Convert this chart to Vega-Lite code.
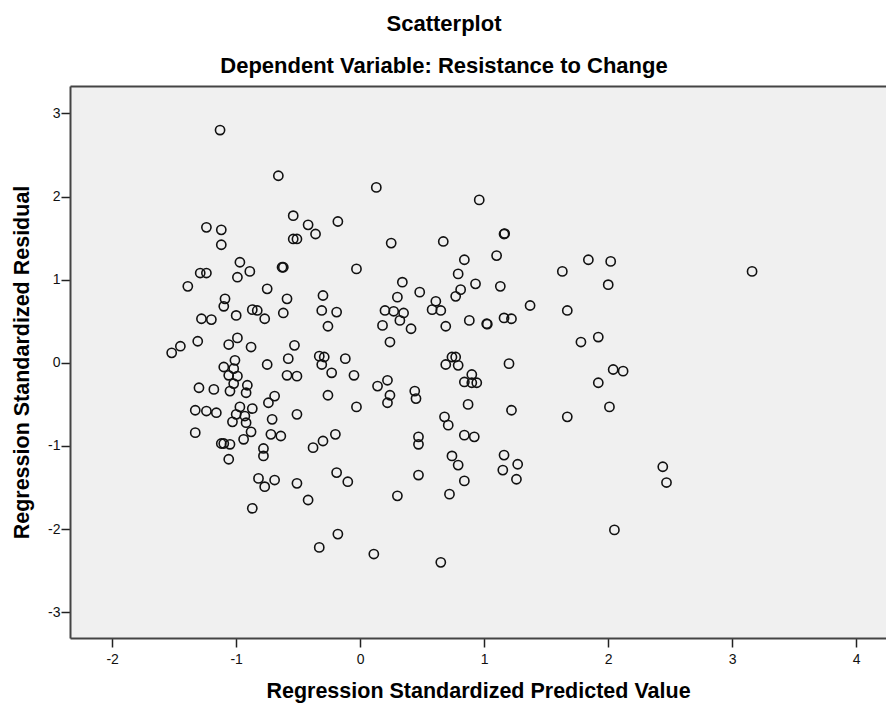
{
  "$schema": "https://vega.github.io/schema/vega-lite/v6.json",
  "autosize": {"type": "none"},
  "padding": {"left": 70, "top": 86, "right": 0, "bottom": 70},
  "width": 816,
  "height": 552,
  "background": "white",
  "config": {
    "view": {"fill": "#F0F0F0", "stroke": null},
    "font": "Liberation Sans"
  },
  "title": {
    "text": ["Scatterplot", "Dependent Variable: Resistance to Change"],
    "fontSize": 22,
    "fontWeight": "bold",
    "font": "Liberation Sans",
    "color": "#000000",
    "lineHeight": 42,
    "anchor": "middle",
    "dx": -34,
    "offset": 8
  },
  "data": {
    "values": [
      {"x": -1.13, "y": 2.80}, {"x": -0.66, "y": 2.25}, {"x": -0.54, "y": 1.77}, {"x": -1.24, "y": 1.63},
      {"x": -1.12, "y": 1.60}, {"x": -1.12, "y": 1.42}, {"x": -0.54, "y": 1.49}, {"x": -0.51, "y": 1.49},
      {"x": -0.97, "y": 1.21}, {"x": -0.89, "y": 1.10}, {"x": -1.29, "y": 1.08}, {"x": -1.24, "y": 1.08},
      {"x": -0.99, "y": 1.03}, {"x": -0.63, "y": 1.15}, {"x": -0.62, "y": 1.15}, {"x": -1.39, "y": 0.92},
      {"x": -0.75, "y": 0.89}, {"x": -1.09, "y": 0.77}, {"x": -1.10, "y": 0.68}, {"x": -0.59, "y": 0.77},
      {"x": -0.87, "y": 0.64}, {"x": -0.83, "y": 0.63}, {"x": -0.62, "y": 0.60}, {"x": -1.00, "y": 0.57},
      {"x": -0.77, "y": 0.53}, {"x": -1.28, "y": 0.53}, {"x": -1.20, "y": 0.52}, {"x": -1.31, "y": 0.26},
      {"x": -1.45, "y": 0.20}, {"x": -1.52, "y": 0.12}, {"x": -0.99, "y": 0.30}, {"x": -1.06, "y": 0.22},
      {"x": -0.88, "y": 0.19}, {"x": -0.53, "y": 0.21}, {"x": -0.58, "y": 0.05}, {"x": -1.01, "y": 0.03},
      {"x": -0.75, "y": -0.02}, {"x": -1.10, "y": -0.05}, {"x": -1.02, "y": -0.07}, {"x": -1.06, "y": -0.15},
      {"x": -0.99, "y": -0.16}, {"x": -1.02, "y": -0.25}, {"x": -1.30, "y": -0.30}, {"x": -1.18, "y": -0.32},
      {"x": -1.05, "y": -0.34}, {"x": -0.91, "y": -0.27}, {"x": -0.92, "y": -0.36}, {"x": -0.59, "y": -0.15},
      {"x": -0.51, "y": -0.16}, {"x": -0.69, "y": -0.40}, {"x": -0.74, "y": -0.48}, {"x": -1.33, "y": -0.57},
      {"x": -1.24, "y": -0.58}, {"x": -1.16, "y": -0.60}, {"x": -0.97, "y": -0.53}, {"x": -0.87, "y": -0.55},
      {"x": -1.00, "y": -0.62}, {"x": -0.93, "y": -0.64}, {"x": -1.03, "y": -0.71}, {"x": -0.92, "y": -0.72},
      {"x": -0.71, "y": -0.68}, {"x": -0.51, "y": -0.62}, {"x": -0.88, "y": -0.83}, {"x": -1.33, "y": -0.84},
      {"x": -0.72, "y": -0.86}, {"x": -0.64, "y": -0.88}, {"x": -0.94, "y": -0.92}, {"x": -1.12, "y": -0.97},
      {"x": -1.10, "y": -0.97}, {"x": -1.05, "y": -0.98}, {"x": -0.78, "y": -1.03}, {"x": -0.78, "y": -1.12},
      {"x": -1.06, "y": -1.16}, {"x": -0.82, "y": -1.39}, {"x": -0.77, "y": -1.49}, {"x": -0.69, "y": -1.41},
      {"x": -0.51, "y": -1.45}, {"x": -0.87, "y": -1.75}, {"x": 0.13, "y": 2.11}, {"x": 0.96, "y": 1.96},
      {"x": -0.42, "y": 1.66}, {"x": -0.36, "y": 1.55}, {"x": -0.18, "y": 1.70}, {"x": 0.25, "y": 1.44},
      {"x": 0.67, "y": 1.46}, {"x": 1.16, "y": 1.55}, {"x": 1.165, "y": 1.555}, {"x": 0.84, "y": 1.24},
      {"x": 1.10, "y": 1.29}, {"x": 1.84, "y": 1.24}, {"x": 1.63, "y": 1.10}, {"x": -0.03, "y": 1.13},
      {"x": 0.79, "y": 1.07}, {"x": 0.34, "y": 0.97}, {"x": 0.93, "y": 0.95}, {"x": 1.13, "y": 0.92},
      {"x": 0.81, "y": 0.88}, {"x": 0.77, "y": 0.80}, {"x": 0.48, "y": 0.85}, {"x": -0.30, "y": 0.81},
      {"x": 0.30, "y": 0.79}, {"x": 1.37, "y": 0.69}, {"x": 1.67, "y": 0.63}, {"x": 0.61, "y": 0.74},
      {"x": 0.58, "y": 0.64}, {"x": 0.65, "y": 0.63}, {"x": -0.31, "y": 0.63}, {"x": -0.19, "y": 0.61},
      {"x": 0.20, "y": 0.63}, {"x": 0.27, "y": 0.62}, {"x": 0.35, "y": 0.60}, {"x": 0.32, "y": 0.51},
      {"x": 0.18, "y": 0.45}, {"x": 0.41, "y": 0.41}, {"x": -0.26, "y": 0.44}, {"x": 0.69, "y": 0.44},
      {"x": 0.88, "y": 0.51}, {"x": 1.02, "y": 0.47}, {"x": 1.025, "y": 0.465}, {"x": 1.16, "y": 0.54},
      {"x": 1.22, "y": 0.53}, {"x": 0.24, "y": 0.25}, {"x": 1.78, "y": 0.25}, {"x": -0.33, "y": 0.08},
      {"x": -0.29, "y": 0.07}, {"x": -0.12, "y": 0.05}, {"x": -0.31, "y": -0.02}, {"x": 0.74, "y": 0.07},
      {"x": 0.77, "y": 0.07}, {"x": 0.69, "y": -0.02}, {"x": 0.79, "y": -0.03}, {"x": 1.20, "y": -0.01},
      {"x": -0.23, "y": -0.12}, {"x": -0.05, "y": -0.15}, {"x": 0.14, "y": -0.28}, {"x": 0.22, "y": -0.21},
      {"x": 0.24, "y": -0.39}, {"x": 0.22, "y": -0.48}, {"x": 0.44, "y": -0.34}, {"x": 0.45, "y": -0.43},
      {"x": -0.26, "y": -0.39}, {"x": -0.03, "y": -0.53}, {"x": 0.90, "y": -0.14}, {"x": 0.84, "y": -0.23},
      {"x": 0.90, "y": -0.24}, {"x": 0.94, "y": -0.24}, {"x": 0.87, "y": -0.50}, {"x": 1.22, "y": -0.57},
      {"x": 1.67, "y": -0.65}, {"x": 0.68, "y": -0.65}, {"x": 0.71, "y": -0.75}, {"x": -0.20, "y": -0.86},
      {"x": -0.30, "y": -0.94}, {"x": -0.38, "y": -1.02}, {"x": 0.47, "y": -0.89}, {"x": 0.47, "y": -0.98},
      {"x": 0.84, "y": -0.87}, {"x": 0.92, "y": -0.89}, {"x": 0.74, "y": -1.12}, {"x": 0.79, "y": -1.23},
      {"x": 1.16, "y": -1.11}, {"x": 1.27, "y": -1.22}, {"x": 1.15, "y": -1.29}, {"x": 1.26, "y": -1.40},
      {"x": 0.84, "y": -1.42}, {"x": -0.19, "y": -1.32}, {"x": -0.10, "y": -1.43}, {"x": 0.47, "y": -1.35},
      {"x": -0.42, "y": -1.65}, {"x": 0.30, "y": -1.60}, {"x": 0.72, "y": -1.58}, {"x": -0.18, "y": -2.06},
      {"x": -0.33, "y": -2.22}, {"x": 0.11, "y": -2.30}, {"x": 0.65, "y": -2.40}, {"x": 2.02, "y": 1.22},
      {"x": 2.00, "y": 0.94}, {"x": 3.16, "y": 1.10}, {"x": 1.92, "y": 0.31}, {"x": 2.04, "y": -0.08},
      {"x": 2.12, "y": -0.10}, {"x": 1.92, "y": -0.24}, {"x": 2.01, "y": -0.53}, {"x": 2.44, "y": -1.25},
      {"x": 2.47, "y": -1.44}, {"x": 2.05, "y": -2.01}
    ]
  },
  "layer": [
    {
      "mark": {"type": "point", "shape": "circle", "filled": false, "size": 85, "stroke": "#111111", "strokeWidth": 1.6, "opacity": 1},
      "encoding": {
        "x": {
          "field": "x", "type": "quantitative",
          "scale": {"domain": [-2.34, 4.24], "nice": false, "zero": false},
          "axis": {
            "title": "Regression Standardized Predicted Value",
            "values": [-2, -1, 0, 1, 2, 3, 4],
            "labelExpr": "'' + datum.value",
            "grid": false,
            "domainColor": "#444444", "domainWidth": 2,
            "tickColor": "#222222", "tickWidth": 1.5, "tickSize": 9,
            "labelFont": "Liberation Sans", "labelFontSize": 14, "labelColor": "#111111", "labelPadding": 5,
            "titleFont": "Liberation Sans", "titleFontSize": 21.5, "titleFontWeight": "bold", "titleColor": "#000000", "titlePadding": 14
          }
        },
        "y": {
          "field": "y", "type": "quantitative",
          "scale": {"domain": [-3.31, 3.33], "nice": false, "zero": false},
          "axis": {
            "title": "Regression Standardized Residual",
            "values": [-3, -2, -1, 0, 1, 2, 3],
            "labelExpr": "'' + datum.value",
            "grid": false,
            "domainColor": "#444444", "domainWidth": 2,
            "tickColor": "#222222", "tickWidth": 1.5, "tickSize": 9,
            "labelFont": "Liberation Sans", "labelFontSize": 14, "labelColor": "#111111", "labelPadding": 1,
            "titleFont": "Liberation Sans", "titleFontSize": 21.5, "titleFontWeight": "bold", "titleColor": "#000000", "titlePadding": 14
          }
        }
      }
    },
    {
      "mark": {"type": "point", "opacity": 0},
      "encoding": {
        "x": {
          "field": "x", "type": "quantitative",
          "scale": {"domain": [-2.34, 4.24], "nice": false, "zero": false},
          "axis": {"orient": "top", "title": null, "labels": false, "ticks": false, "grid": false, "domainColor": "#444444", "domainWidth": 2}
        },
        "y": {"field": "y", "type": "quantitative"}
      }
    }
  ],
  "resolve": {"axis": {"x": "independent"}}
}
